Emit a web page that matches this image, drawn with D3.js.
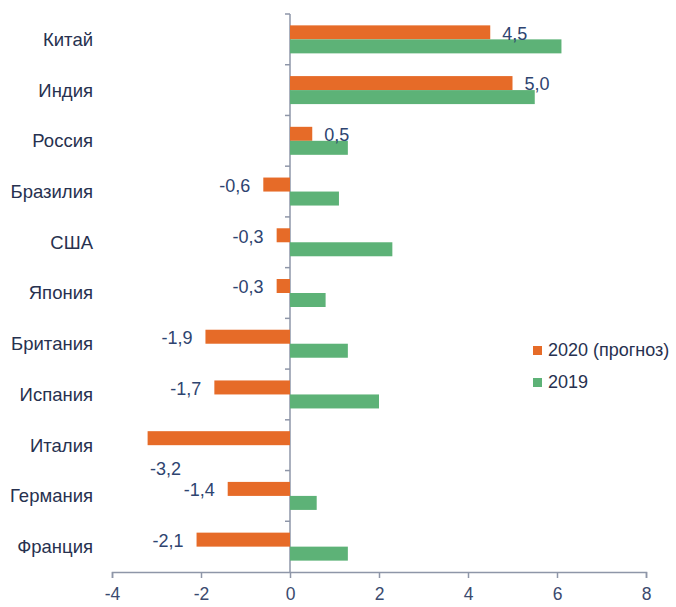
<!DOCTYPE html>
<html>
<head>
<meta charset="utf-8">
<script src="https://cdn.jsdelivr.net/npm/d3@7"></script>
<style>
  body { margin: 0; background: #fff; }
  text { font-family: "Liberation Sans", Arial, sans-serif; }
</style>
</head>
<body>
<svg></svg>
<script>
var countries = ["Китай", "Индия", "Россия", "Бразилия", "США", "Япония", "Британия", "Испания", "Италия", "Германия", "Франция"];
var forecast2020 = [4.5, 5.0, 0.5, -0.6, -0.3, -0.3, -1.9, -1.7, -3.2, -1.4, -2.1];
var actual2019 = [6.1, 5.5, 1.3, 1.1, 2.3, 0.8, 1.3, 2.0, 0, 0.6, 1.3];
var xTicks = [-4, -2, 0, 2, 4, 6, 8];
var seriesNames = ["2020 (прогноз)", "2019"];

var colors = ["#E66B28", "#5DB277"];
var textColor = "#27314F";
var labelColor = "#2E4470";
var axisColor = "#8E96A8";

const svgWidth = 676, svgHeight = 607;

var svg = d3.select("svg")
    .attr("width", svgWidth)
    .attr("height", svgHeight);

var x = d3.scaleLinear()
    .domain([-4, 8])
    .range([112, 646]);

var y = d3.scaleBand()
    .domain(countries)
    .range([14, 572]);

var barH = 14;

// bottom axis
var xAxis = d3.axisBottom(x)
    .tickValues(xTicks)
    .tickSize(6)
    .tickFormat(d => d);

var gx = svg.append("g")
    .attr("transform", "translate(0,572)")
    .call(xAxis);
gx.select(".domain").attr("stroke", axisColor).attr("stroke-width", 1.5);
gx.selectAll(".tick line").attr("stroke", axisColor).attr("stroke-width", 1.5);
gx.selectAll(".tick text")
    .attr("font-size", 17.5)
    .attr("fill", "#3A4A6E")
    .attr("y", 16);

// vertical zero axis with boundary ticks
var boundaries = d3.range(countries.length).map(i => y.range()[0] + i * y.step());
svg.append("line")
    .attr("x1", x(0)).attr("x2", x(0))
    .attr("y1", y.range()[0]).attr("y2", y.range()[1])
    .attr("stroke", axisColor).attr("stroke-width", 1.5);
svg.selectAll(".ytick")
    .data(boundaries)
    .enter()
    .append("line")
    .attr("class", "ytick")
    .attr("x1", x(0) - 5).attr("x2", x(0))
    .attr("y1", d => d).attr("y2", d => d)
    .attr("stroke", axisColor).attr("stroke-width", 1.5);

// category labels
svg.selectAll(".cat")
    .data(countries)
    .enter()
    .append("text")
    .attr("class", "cat")
    .attr("x", 93)
    .attr("y", d => y(d) + y.bandwidth() / 2)
    .attr("dy", "0.35em")
    .attr("text-anchor", "end")
    .attr("font-size", 18.5)
    .attr("fill", textColor)
    .text(d => d);

var data = countries.map((c, i) => ({ c: c, v20: forecast2020[i], v19: actual2019[i] }));
var minV = d3.min(forecast2020);

// 2020 bars
svg.selectAll(".b20")
    .data(data)
    .enter()
    .append("rect")
    .attr("class", "b20")
    .attr("x", d => x(Math.min(0, d.v20)))
    .attr("y", d => y(d.c) + y.bandwidth() / 2 - barH)
    .attr("width", d => Math.abs(x(d.v20) - x(0)))
    .attr("height", barH)
    .attr("fill", colors[0]);

// 2019 bars
svg.selectAll(".b19")
    .data(data.filter(d => d.v19 !== 0))
    .enter()
    .append("rect")
    .attr("class", "b19")
    .attr("x", d => x(Math.min(0, d.v19)))
    .attr("y", d => y(d.c) + y.bandwidth() / 2)
    .attr("width", d => Math.abs(x(d.v19) - x(0)))
    .attr("height", barH)
    .attr("fill", colors[1]);

// value labels for 2020
var fmt = v => v.toFixed(1).replace(".", ",");
svg.selectAll(".lab")
    .data(data)
    .enter()
    .append("text")
    .attr("class", "lab")
    .attr("x", d => {
        if (d.v20 === minV) return x(d.v20) + 18;
        return d.v20 >= 0 ? x(d.v20) + 12 : x(d.v20) - 13;
    })
    .attr("y", d => {
        var c = y(d.c) + y.bandwidth() / 2;
        if (d.v20 === minV) return c + 24;
        return c - 6;
    })
    .attr("dy", "0.35em")
    .attr("text-anchor", d => d.v20 === minV ? "middle" : (d.v20 >= 0 ? "start" : "end"))
    .attr("font-size", 18)
    .attr("fill", labelColor)
    .text(d => fmt(d.v20));

// legend
var legend = svg.selectAll(".leg")
    .data(seriesNames)
    .enter()
    .append("g")
    .attr("class", "leg")
    .attr("transform", (d, i) => "translate(533," + (350 + i * 32) + ")");
legend.append("rect")
    .attr("x", 0).attr("y", -4)
    .attr("width", 9).attr("height", 9)
    .attr("fill", (d, i) => colors[i]);
legend.append("text")
    .attr("x", 15).attr("y", 0)
    .attr("dy", "0.35em")
    .attr("font-size", 18)
    .attr("fill", textColor)
    .text(d => d);
</script>
</body>
</html>
